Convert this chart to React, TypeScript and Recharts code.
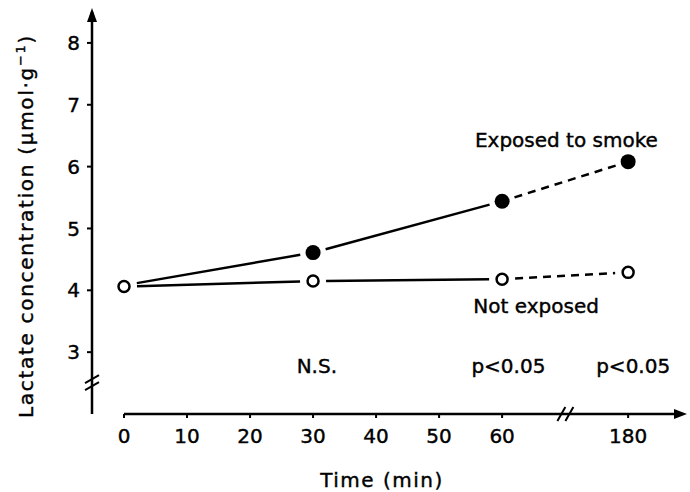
import { LineChart, Line, XAxis, YAxis, ReferenceDot, ReferenceLine } from "recharts";

const times = [0, 30, 60, 180];
const exposed = [4.08, 4.61, 5.44, 6.08];
const notExposed = [4.06, 4.15, 4.18, 4.29];
const xTickLabels = [0, 10, 20, 30, 40, 50, 60, 180];
const yTicks = [3, 4, 5, 6, 7, 8];
const sigLabels = ["N.S.", "p<0.05", "p<0.05"];
const sigTimes = [30, 60, 180];

// broken time axis: 0-60 linear, 180 placed after the break
const axisPos = (t: number) => (t <= 60 ? t : 80);
const xMin = -5.08;
const xMax = 89.5;
const yMin = 2;
const yMax = 8.5;
const breakPos = 70.2;
const font = "DejaVu Sans";
const ink = { fill: "#000", stroke: "#000", strokeWidth: 0.4 };

const W = 690;
const H = 492;
const margin = { top: 12, right: 2, bottom: 48, left: 32 };
const yAxisW = 60;
const xAxisH = 30;
const pxX = (W - margin.left - margin.right - yAxisW) / (xMax - xMin);
const pxY = (H - margin.top - margin.bottom - xAxisH) / (yMax - yMin);
const GAP = 13;

const rows = (vals: number[], from: number, to: number) =>
  times.slice(from, to).map((t, i) => ({ pos: axisPos(t), value: vals[from + i], idx: from + i }));

// dash pattern that leaves a gap at both ends of a segment
const segDash = (vals: number[], i: number, dashed: boolean) => {
  const dx = (axisPos(times[i + 1]) - axisPos(times[i])) * pxX;
  const dy = (vals[i + 1] - vals[i]) * pxY;
  const L = Math.hypot(dx, dy);
  const inner = L - 2 * GAP;
  if (!dashed) return `0 ${GAP} ${inner} ${L}`;
  const parts: number[] = [0, GAP];
  let left = inner;
  while (left > 0) {
    const d = Math.min(8, left);
    parts.push(d);
    left -= d;
    if (left <= 0) break;
    const g = Math.min(6, left);
    parts.push(g);
    left -= g;
    if (left <= 0) parts.push(0);
  }
  parts.push(L);
  return parts.join(" ");
};

const Marker = (props: any) => {
  const { cx, cy, payload, filled, skipFirst } = props;
  if (cx == null || cy == null) return null;
  if (skipFirst && payload.idx === 0) return <g key={`e${payload.idx}`} />;
  return (
    <g key={`${filled ? "f" : "o"}${payload.idx}`}>
      {filled ? (
        <circle cx={cx} cy={cy} r={7.5} fill="#000" />
      ) : (
        <circle cx={cx} cy={cy} r={5.5} fill="#fff" stroke="#000" strokeWidth={2.5} />
      )}
    </g>
  );
};

const textShape = (txt: string, anchor: string = "middle") => (p: any) => (
  <text x={p.cx} y={p.cy} textAnchor={anchor} fontFamily={font} fontSize={20} {...ink}>
    {txt}
  </text>
);

const YLabel = () => (
  <text
    x={33}
    y={226}
    transform="rotate(-90 33 226)"
    textAnchor="middle"
    fontFamily={font}
    fontSize={20}
    letterSpacing={1.7}
    {...ink}
  >
    Lactate concentration (µmol·g
    <tspan dy={-8} fontSize={13}>−1</tspan>
    <tspan dy={8}>)</tspan>
  </text>
);

const XLabel = () => (
  <text x={382} y={487} textAnchor="middle" fontFamily={font} fontSize={20} letterSpacing={1.5} {...ink}>
    Time (min)
  </text>
);

const tickStyle = { fontFamily: font, fontSize: 20, ...ink };
const series = [
  { key: "ex", vals: exposed, filled: true },
  { key: "ne", vals: notExposed, filled: false },
];

export default function App() {
  return (
    <div style={{ position: "absolute", left: 0, top: 0 }}>
      <LineChart width={W} height={H} margin={margin}>
        <XAxis
          type="number"
          dataKey="pos"
          domain={[xMin, xMax]}
          allowDataOverflow
          ticks={xTickLabels.map(axisPos)}
          tickFormatter={(v: number) => String(xTickLabels[xTickLabels.map(axisPos).indexOf(v)])}
          axisLine={false}
          tickLine={{ stroke: "#000", strokeWidth: 2 }}
          tickSize={4}
          tickMargin={11}
          height={xAxisH}
          tick={tickStyle}
          label={<XLabel />}
        />
        <YAxis
          type="number"
          domain={[yMin, yMax]}
          allowDataOverflow
          ticks={yTicks}
          width={yAxisW}
          axisLine={{ stroke: "#000", strokeWidth: 2.5 }}
          tickLine={{ stroke: "#000", strokeWidth: 2 }}
          tickSize={5}
          tickMargin={7}
          tick={tickStyle}
          label={<YLabel />}
        />
        <ReferenceLine
          segment={[{ x: 0, y: yMin }, { x: xMax - 1, y: yMin }]}
          stroke="#000"
          strokeWidth={2.5}
          ifOverflow="visible"
        />
        {series.map((s) =>
          [0, 1, 2].map((i) => {
            const dash = segDash(s.vals, i, i === 2);
            return (
              <Line
                key={`${s.key}seg${i}`}
                data={rows(s.vals, i, i + 2)}
                dataKey="value"
                stroke="#000"
                strokeWidth={2.5}
                strokeDasharray={dash}
                style={{ strokeDasharray: dash }}
                dot={false}
                activeDot={false}
                isAnimationActive={false}
              />
            );
          })
        )}
        {series.map((s) => (
          <Line
            key={`${s.key}pts`}
            data={rows(s.vals, 0, 4)}
            dataKey="value"
            stroke="none"
            dot={(p: any) => <Marker {...p} filled={s.filled} skipFirst={s.filled} />}
            activeDot={false}
            isAnimationActive={false}
          />
        ))}
        {sigTimes.map((t, i) => (
          <ReferenceDot
            key={`sig${i}`}
            x={axisPos(t) + [0.6, 1, 0.8][i]}
            y={2.66}
            ifOverflow="visible"
            shape={textShape(sigLabels[i])}
          />
        ))}
        <ReferenceDot x={70.2} y={6.32} ifOverflow="visible" shape={textShape("Exposed to smoke")} />
        <ReferenceDot x={65.4} y={3.63} ifOverflow="visible" shape={textShape("Not exposed")} />
        {/* x axis break */}
        <ReferenceDot
          x={breakPos}
          y={yMin}
          ifOverflow="visible"
          shape={(p: any) => (
            <g>
              <line x1={p.cx - 9} y1={p.cy + 7} x2={p.cx - 1} y2={p.cy - 7} stroke="#000" strokeWidth={2} />
              <line x1={p.cx - 1} y1={p.cy + 7} x2={p.cx + 7} y2={p.cy - 7} stroke="#000" strokeWidth={2} />
            </g>
          )}
        />
        {/* y axis break */}
        <ReferenceDot
          x={xMin}
          y={2.5}
          ifOverflow="visible"
          shape={(p: any) => (
            <g>
              <line x1={p.cx - 7} y1={p.cy} x2={p.cx + 7} y2={p.cy - 8} stroke="#000" strokeWidth={2} />
              <line x1={p.cx - 7} y1={p.cy + 7} x2={p.cx + 7} y2={p.cy - 1} stroke="#000" strokeWidth={2} />
            </g>
          )}
        />
        {/* arrow heads */}
        <ReferenceDot
          x={xMax}
          y={yMin}
          ifOverflow="visible"
          shape={(p: any) => <path d={`M${p.cx - 1},${p.cy} L${p.cx - 14},${p.cy - 5} L${p.cx - 14},${p.cy + 5} Z`} fill="#000" />}
        />
        <ReferenceDot
          x={xMin}
          y={yMax}
          ifOverflow="visible"
          shape={(p: any) => <path d={`M${p.cx},${p.cy - 4} L${p.cx - 5},${p.cy + 10} L${p.cx + 5},${p.cy + 10} Z`} fill="#000" />}
        />
      </LineChart>
    </div>
  );
}
